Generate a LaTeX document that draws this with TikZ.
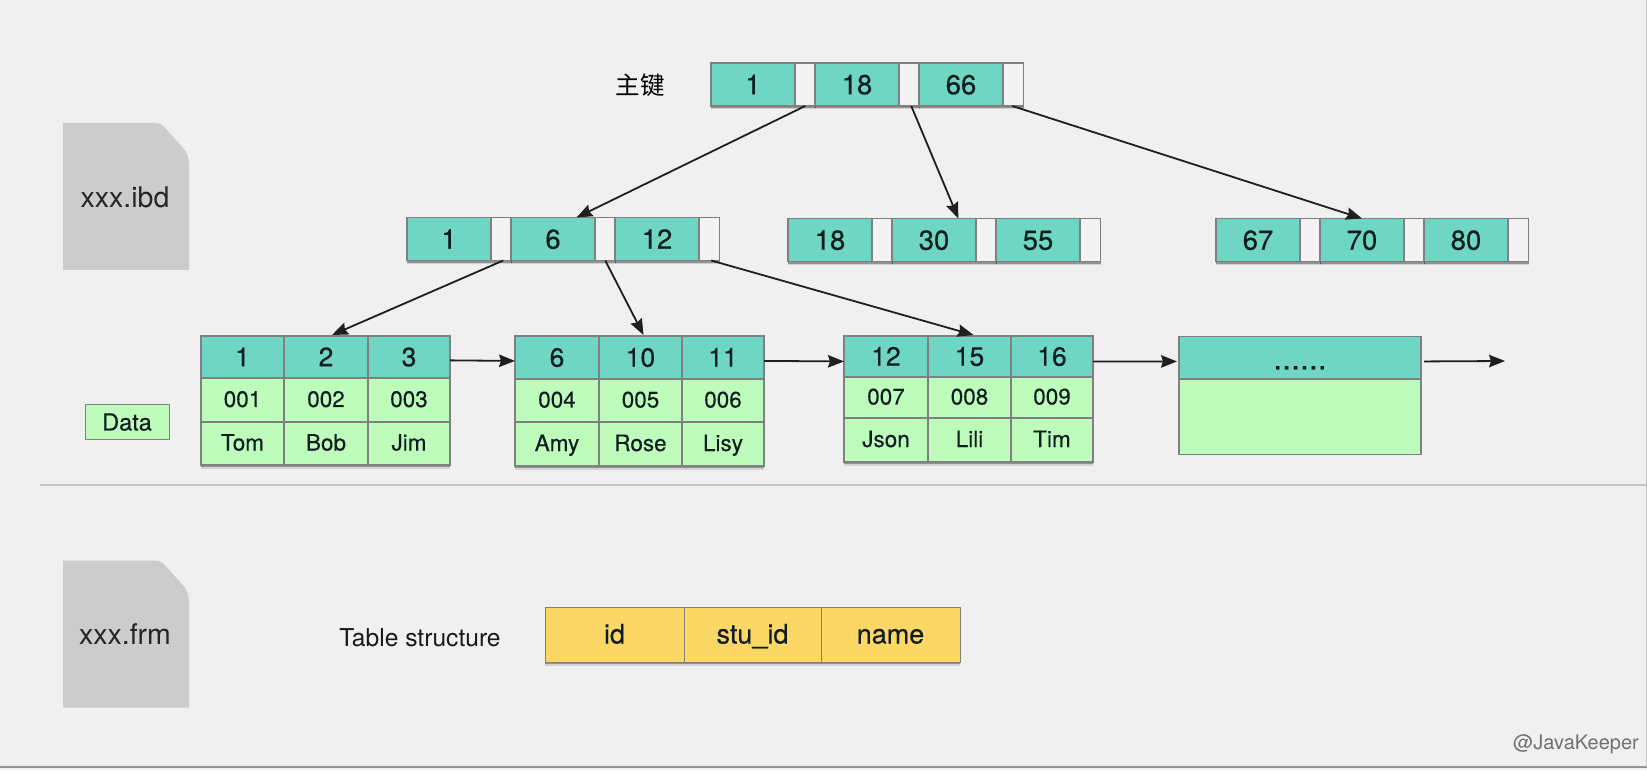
\documentclass[tikz,border=0pt]{standalone}
\usepackage{fontspec}
\setmainfont{TeX Gyre Heros}
\newfontfamily\heavyfont{TeX Gyre Heros}[FakeBold=0.25]
\newfontfamily\cjkfont{Noto Sans CJK SC}
\usetikzlibrary{arrows.meta,shadows,calc}
\definecolor{bgc}{HTML}{F0F0F0}
\definecolor{tealc}{HTML}{6FD6C3}
\definecolor{emptyc}{HTML}{F3F3F3}
\definecolor{greenc}{HTML}{BDFCBB}
\definecolor{yellowc}{HTML}{FBD865}
\definecolor{docc}{HTML}{CCCCCC}
\definecolor{edgec}{HTML}{808080}
\definecolor{linec}{HTML}{C4C4C4}
\definecolor{inkc}{HTML}{0F1C20}
\tikzset{
  softshadow/.style={
    drop shadow={shadow xshift=0pt,shadow yshift=-3.5pt,opacity=.12,fill=black},
    drop shadow={shadow xshift=0pt,shadow yshift=-2.2pt,opacity=.3,fill=black}},
  cellbase/.style={draw=edgec,line width=1.3pt,inner sep=0pt,outer sep=0pt,text=inkc,align=center},
  cellbox/.style={cellbase,softshadow},
  keycell/.style={cellbox,fill=tealc,font=\fontsize{27.5}{28}\heavyfont,text height=19.5pt,text depth=0pt},
  ptrcell/.style={cellbox,fill=emptyc},
  hdrcell/.style={cellbox,fill=tealc,font=\fontsize{26.5}{27}\heavyfont,text height=18.5pt,text depth=0pt},
  datcell/.style={cellbox,fill=greenc,font=\fontsize{22.5}{23}\heavyfont,text height=14pt,text depth=0pt},
  yelcell/.style={cellbox,fill=yellowc,font=\fontsize{27}{27}\heavyfont,text height=19pt,text depth=1pt,line width=1pt},
  docshape/.style={fill=docc},
  doclabel/.style={font=\fontsize{28.5}{29}\selectfont,text=black!85,inner sep=0pt},
  plainlabel/.style={font=\fontsize{24.6}{25}\selectfont,text=black!90,inner sep=0pt},
  link/.style={draw=black!88,line width=1.8pt,-{Stealth[length=16pt,width=12.5pt,inset=2pt]}},
  rulefine/.style={draw=linec,line width=1.6pt},
}
% one B+ tree key page: three keys, three pointer slots
\newcommand{\keypage}[6]{%
  \foreach \i/\lab in {0/#4,1/#5,2/#6}{
    \pgfmathtruncatemacro{\n}{\i+1}
    \node[keycell,minimum width=84pt,minimum height=#3pt] (#1k\n) at ({#2+104*\i+42},{\rowy}) {\lab};
    \node[ptrcell,minimum width=20.5pt,minimum height=#3pt] (#1w\n) at ({#2+104*\i+94.25},{\rowy}) {};
  }%
}
% one row of a data table, columns taken from \colA..\colD
\newcommand{\tabrow}[7]{%
  \node[#4,minimum width={\colB-\colA},minimum height={#3-#2}] (#1a) at ({(\colA+\colB)/2},{(#2+#3)/2}) {#5};
  \node[#4,minimum width={\colC-\colB},minimum height={#3-#2}] (#1b) at ({(\colB+\colC)/2},{(#2+#3)/2}) {#6};
  \node[#4,minimum width={\colD-\colC},minimum height={#3-#2}] (#1c) at ({(\colC+\colD)/2},{(#2+#3)/2}) {#7};
}
% a file icon with a rounded cut corner
\newcommand{\fileicon}[1]{%
  \fill[docshape] (63,#1) -- (155,#1)
    .. controls (162,#1) and (165,{#1+5}) .. (168,{#1+8})
    -- (183,{#1+25})
    .. controls (187,{#1+29}) and (189,{#1+35}) .. (189,{#1+42})
    -- (189,{#1+147}) -- (63,{#1+147}) -- cycle;
}
\begin{document}
\begin{tikzpicture}[x=1pt,y=-1pt]
\path[fill=white] (0,0) rectangle (1647,775);
\path[fill=bgc] (0,0) rectangle (1647,770);
\useasboundingbox (0,0) rectangle (1647,775);
% rules
\coordinate (divL) at (40,485);
\coordinate (divR) at (1647,485);
\coordinate (botL) at (0,767);
\coordinate (botR) at (1647,767);
\coordinate (sideT) at (1646.5,0);
\coordinate (sideB) at (1646.5,767);
\draw[rulefine] (divL) -- (divR);
\draw[rulefine,draw=black!42,line width=2pt] (botL) -- (botR);
\draw[rulefine,line width=1pt] (sideT) -- (sideB);
% file icons
\fileicon{123}
\node[doclabel] (ibd) at (125,197.5) {xxx.ibd};
\fileicon{560.5}
\node[doclabel] (frm) at (125,634.5) {xxx.frm};
% labels
\node[font=\fontsize{24.5}{25}\cjkfont,text=black,inner sep=0pt] (pk) at (640,85) {主键};
\node[cellbase,fill=greenc,minimum width=84pt,minimum height=35pt,line width=1pt,font=\fontsize{23.5}{24}\heavyfont,text height=17pt,text depth=0pt] (dat) at (127,422) {Data};
\node[plainlabel] (ts) at (420,638) {Table structure};
\node[font=\fontsize{20}{20}\selectfont,text=black!56,inner sep=0pt,anchor=east] (wm) at (1639,744) {@JavaKeeper};
% key pages
\def\rowy{84.5}\keypage{r}{711}{43}{1}{18}{66}
\def\rowy{239}\keypage{m}{407}{43}{1}{6}{12}
\def\rowy{240}\keypage{n}{788}{43}{18}{30}{55}
\def\rowy{240}\keypage{p}{1216}{43}{67}{70}{80}
% data tables
\def\colA{201}\def\colB{284}\def\colC{368}\def\colD{450}
\tabrow{ah}{336}{378}{hdrcell}{1}{2}{3}
\tabrow{ai}{378}{422}{datcell}{001}{002}{003}
\tabrow{an}{422}{465}{datcell}{Tom}{Bob}{Jim}
\def\colA{515}\def\colB{599}\def\colC{682}\def\colD{764}
\tabrow{bh}{336}{379}{hdrcell}{6}{10}{11}
\tabrow{bi}{379}{422}{datcell}{004}{005}{006}
\tabrow{bn}{422}{466}{datcell}{Amy}{Rose}{Lisy}
\def\colA{844}\def\colB{928}\def\colC{1011}\def\colD{1093}
\tabrow{ch}{336}{377}{hdrcell}{12}{15}{16}
\tabrow{ci}{377}{418}{datcell}{007}{008}{009}
\tabrow{cn}{418}{462}{datcell}{Json}{Lili}{Tim}
\node[cellbase,fill=tealc,minimum width=242pt,minimum height=43pt,font=\fontsize{32}{32}\heavyfont,text height=23pt,text depth=0pt] (dh) at (1300,358) {......};
\node[cellbase,fill=greenc,minimum width=242pt,minimum height=75pt] (db) at (1300,417) {};
\draw[edgec,line width=2pt] (dh.south west) -- (dh.south east);
% table structure
\def\colA{545}\def\colB{684}\def\colC{821}\def\colD{960}
\tabrow{ys}{607}{662}{yelcell}{id}{stu\_id}{name}
% connectors
\coordinate (tail) at (1505,361);
\draw[link] (rw1.south) -- ($(mk2.north west)!.78!(mk2.north east)$);
\draw[link] ($(rw2.south)+(2,0)$) -- ($(nk2.north west)!.79!(nk2.north east)$);
\draw[link] ($(rw3.south)+(-1,0)$) -- (pk2.north);
\draw[link] ($(mw1.south)+(2,0)$) -- ($(ahb.north)+(6,-1)$);
\draw[link] (mw2.south) -- ($(bhb.north)+(3,-1)$);
\draw[link] ($(mw3.south)+(2,0)$) -- ($(chb.north)+(4,-1)$);
\draw[link] ($(ahc.north east)!.58!(ahc.south east)$) -- ($(bha.north west)!.58!(bha.south west)$);
\draw[link] ($(bhc.north east)!.58!(bhc.south east)$) -- ($(cha.north west)!.62!(cha.south west)$);
\draw[link] ($(chc.north east)!.62!(chc.south east)$) -- ($(dh.north west)!.58!(dh.south west)+(-2,0)$);
\draw[link] ($(dh.north east)!.58!(dh.south east)+(3,0)$) -- (tail);
\end{tikzpicture}
\end{document}
